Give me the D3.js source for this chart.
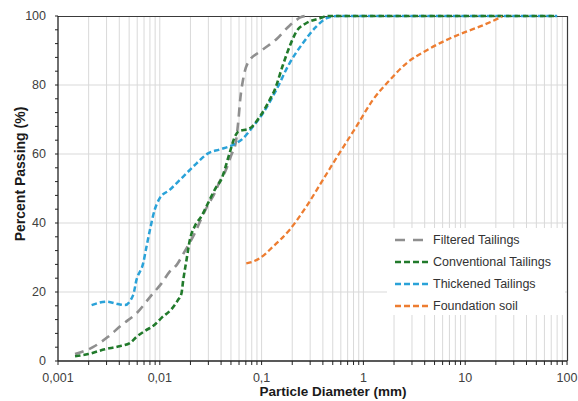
<!DOCTYPE html>
<html>
<head>
<meta charset="utf-8">
<script src="https://cdn.jsdelivr.net/npm/d3@7"></script>
<style>
  html, body { margin: 0; padding: 0; background: #fff; }
  svg { display: block; font-family: "Liberation Sans", Arial, sans-serif; }
</style>
</head>
<body>
<svg id="chart" width="578" height="401"></svg>
<script>
// Grain-size distribution curves (particle diameter in mm, percent passing)
const filteredD = [0.00147, 0.0022, 0.0031, 0.0042, 0.0059, 0.0083, 0.0104, 0.0125, 0.0146, 0.0175, 0.022, 0.0257, 0.0297, 0.0345, 0.0387, 0.0434, 0.0504, 0.0557, 0.0596, 0.0615, 0.0656, 0.0735, 0.1, 0.139, 0.188, 0.215, 0.24, 0.27];
const filteredP = [2.0, 4.0, 7.0, 10.4, 13.8, 19.1, 22.5, 25.9, 27.8, 31.7, 37.0, 41.4, 45.2, 48.6, 52.0, 54.6, 59.7, 63.3, 70.8, 75.5, 81.4, 86.5, 90.0, 93.2, 97.2, 98.6, 99.6, 100];

const conventionalD = [0.00147, 0.00198, 0.00289, 0.0039, 0.00508, 0.0059, 0.00713, 0.0089, 0.0104, 0.013, 0.0151, 0.0163, 0.017, 0.0183, 0.0197, 0.022, 0.0257, 0.0297, 0.036, 0.040, 0.0484, 0.0546, 0.059, 0.0763, 0.096, 0.12, 0.134, 0.162, 0.188, 0.219, 0.274, 0.37, 0.45, 80];
const conventionalP = [1.4, 2.0, 3.4, 4.2, 5.2, 7.0, 8.7, 10.5, 12.5, 15.0, 17.7, 19.5, 23.5, 29.3, 35.0, 39.0, 42.0, 45.7, 50.5, 52.5, 60.2, 65.0, 66.5, 67.4, 70.8, 75.7, 78.5, 85.8, 91.1, 95.4, 97.9, 99.3, 100, 100];

const thickenedD = [0.00214, 0.003, 0.0039, 0.00454, 0.00547, 0.0059, 0.00686, 0.0074, 0.008, 0.0089, 0.01, 0.0125, 0.0169, 0.023, 0.0298, 0.0387, 0.052, 0.0656, 0.082, 0.103, 0.139, 0.188, 0.254, 0.344, 0.43, 0.55, 80];
const thickenedP = [16.2, 17.2, 16.5, 16.2, 19.1, 23.5, 28.3, 33.1, 38.0, 43.8, 47.2, 49.6, 53.4, 57.3, 60.2, 61.3, 62.6, 64.5, 67.9, 71.8, 78.5, 86.3, 92.1, 96.9, 99.3, 100, 100];

const foundationD = [0.0707, 0.082, 0.096, 0.129, 0.188, 0.274, 0.4, 0.58, 0.85, 1.24, 1.81, 2.65, 4.2, 6.5, 10.1, 13.8, 23];
const foundationP = [28.3, 28.8, 29.8, 33.1, 38.0, 44.7, 52.5, 60.2, 67.9, 75.7, 81.4, 86.3, 90.1, 93.0, 95.4, 96.9, 99.8];

const seriesNames = ["Filtered Tailings", "Conventional Tailings", "Thickened Tailings", "Foundation soil"];
const xTickValues = [0.001, 0.01, 0.1, 1, 10, 100];
const xTickLabels = ["0,001", "0,01", "0,1", "1", "10", "100"];
const yTickValues = [0, 20, 40, 60, 80, 100];

const svg = d3.select("#chart");
const plotLeft = 58, plotRight = 567, plotTop = 16, plotBottom = 361;

const x = d3.scaleLog().domain([0.001, 100]).range([plotLeft, plotRight]);
const y = d3.scaleLinear().domain([0, 100]).range([plotBottom, plotTop]);

// Vertical grid at every log step, horizontal grid at major percentages
const logSteps = [];
for (let e = -3; e < 2; e++) {
  for (let m = 1; m <= 9; m++) logSteps.push(m * Math.pow(10, e));
}
logSteps.push(100);

const grid = svg.append("g");
grid.selectAll("line.v").data(logSteps.filter(d => d > 0.001 && d < 100)).enter()
  .append("line")
  .attr("x1", d => x(d)).attr("x2", d => x(d))
  .attr("y1", plotTop).attr("y2", plotBottom)
  .attr("stroke", "#d9d9d9").attr("stroke-width", 1);
grid.selectAll("line.h").data(yTickValues.filter(v => v > 0 && v < 100)).enter()
  .append("line")
  .attr("x1", plotLeft).attr("x2", plotRight)
  .attr("y1", d => y(d)).attr("y2", d => y(d))
  .attr("stroke", "#d9d9d9").attr("stroke-width", 1);

// Frame: top and right edges
svg.append("line").attr("x1", plotLeft).attr("x2", plotRight).attr("y1", plotTop + 0.5).attr("y2", plotTop + 0.5)
  .attr("stroke", "#3a3a3a").attr("stroke-width", 1.2);
svg.append("line").attr("x1", plotRight + 0.5).attr("x2", plotRight + 0.5).attr("y1", plotTop).attr("y2", plotBottom)
  .attr("stroke", "#3a3a3a").attr("stroke-width", 1.2);

// Curves
const line = d3.line()
  .x(d => x(d[0]))
  .y(d => y(d[1]))
  .curve(d3.curveMonotoneX);

const zip = (a, b) => a.map((v, i) => [v, b[i]]);

const series = [
  { name: seriesNames[0], pts: zip(filteredD, filteredP), color: "#8f8f8f", dash: "9,6", width: 2.6 },
  { name: seriesNames[2], pts: zip(thickenedD, thickenedP), color: "#2aa2d8", dash: "5.5,3", width: 2.5 },
  { name: seriesNames[1], pts: zip(conventionalD, conventionalP), color: "#217a2b", dash: "5.5,3", width: 2.6 },
  { name: seriesNames[3], pts: zip(foundationD, foundationP), color: "#ed7d31", dash: "5.5,3", width: 2.3 }
];

svg.append("g").selectAll("path").data(series).enter()
  .append("path")
  .attr("d", d => line(d.pts))
  .attr("fill", "none")
  .attr("stroke", d => d.color)
  .attr("stroke-width", d => d.width)
  .attr("stroke-dasharray", d => d.dash);

// Axes
const xAxis = svg.append("g").attr("transform", `translate(0,${plotBottom})`);
xAxis.append("line").attr("x1", plotLeft).attr("x2", plotRight).attr("stroke", "#222").attr("stroke-width", 1.3);
xAxis.selectAll("line.t").data(logSteps).enter().append("line")
  .attr("x1", d => x(d)).attr("x2", d => x(d))
  .attr("y1", 0).attr("y2", 4)
  .attr("stroke", "#222").attr("stroke-width", 1);
xAxis.selectAll("text").data(xTickValues).enter().append("text")
  .attr("x", d => x(d)).attr("y", 21)
  .attr("text-anchor", "middle")
  .attr("font-size", 12.5).attr("fill", "#404040")
  .text((d, i) => xTickLabels[i]);

const yAxis = svg.append("g").attr("transform", `translate(${plotLeft},0)`);
yAxis.append("line").attr("y1", plotTop).attr("y2", plotBottom).attr("stroke", "#222").attr("stroke-width", 1.3);
yAxis.selectAll("line.t").data(d3.range(0, 101, 4)).enter().append("line")
  .attr("x1", -3).attr("x2", 0)
  .attr("y1", d => y(d)).attr("y2", d => y(d))
  .attr("stroke", "#222").attr("stroke-width", 1);
yAxis.selectAll("text").data(yTickValues).enter().append("text")
  .attr("x", -12).attr("y", d => y(d))
  .attr("dy", "0.35em")
  .attr("text-anchor", "end")
  .attr("font-size", 12.5).attr("fill", "#404040")
  .text(d => d);

// Axis titles
svg.append("text")
  .attr("x", 333).attr("y", 396)
  .attr("text-anchor", "middle")
  .attr("font-size", 13.5).attr("font-weight", "bold").attr("fill", "#1a1a1a")
  .text("Particle Diameter (mm)");
svg.append("text")
  .attr("transform", "translate(25,174) rotate(-90)")
  .attr("text-anchor", "middle")
  .attr("font-size", 14).attr("font-weight", "bold").attr("fill", "#1a1a1a")
  .text("Percent Passing (%)");

// Legend
const legendOrder = [series[0], series[2], series[1], series[3]];
const legend = svg.append("g");
legend.append("rect").attr("x", 387).attr("y", 228).attr("width", 178).attr("height", 87).attr("fill", "#fff");
const rowY = [240, 262, 284, 306];
legendOrder.forEach((s, i) => {
  legend.append("line")
    .attr("x1", 395).attr("x2", 431)
    .attr("y1", rowY[i]).attr("y2", rowY[i])
    .attr("stroke", s.color).attr("stroke-width", s.width)
    .attr("stroke-dasharray", i === 0 ? "10,8" : "6,3");
  legend.append("text")
    .attr("x", 433).attr("y", rowY[i]).attr("dy", "0.35em")
    .attr("font-size", 12.5).attr("fill", "#333")
    .text(s.name);
});
</script>
</body>
</html>
